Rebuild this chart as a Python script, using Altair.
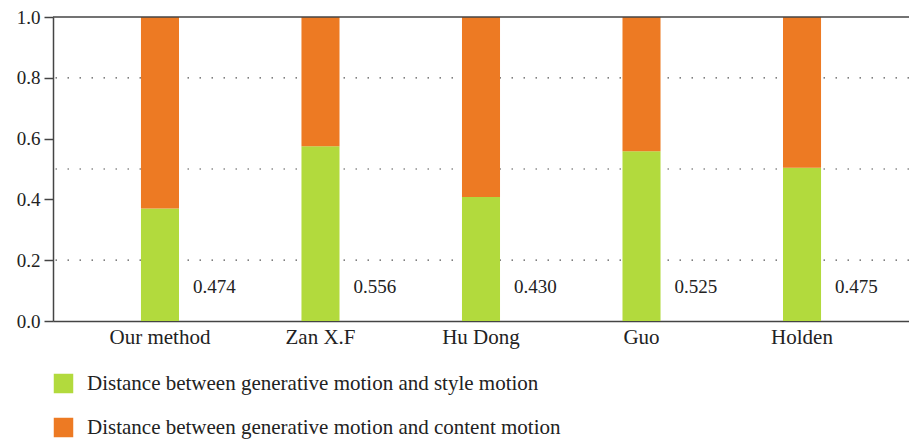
import altair as alt
import pandas as pd

methods = ["Our method", "Zan X.F", "Hu Dong", "Guo", "Holden"]
style_dist = [0.37, 0.575, 0.408, 0.558, 0.504]
content_dist = [round(1 - v, 3) for v in style_dist]
labels = ["0.474", "0.556", "0.430", "0.525", "0.475"]
series = ["Distance between generative motion and style motion",
          "Distance between generative motion and content motion"]
colors = ["#B2DA3D", "#ED7A23"]
grid_vals = [0.2, 0.5, 0.8]

rows = []
for m, s, c in zip(methods, style_dist, content_dist):
    rows.append({"method": m, "series": series[0], "value": s, "ord": 0})
    rows.append({"method": m, "series": series[1], "value": c, "ord": 1})
df = pd.DataFrame(rows)
lab_df = pd.DataFrame({"method": methods, "label": labels})
grid_df = pd.DataFrame({"g": grid_vals})

FONT = "Liberation Serif"

xscale = alt.Scale(domain=methods, paddingInner=0.763, paddingOuter=0.548)
yscale = alt.Scale(domain=[0, 1], nice=False)

grid = alt.Chart(grid_df).mark_rule(
    color="#555555", strokeWidth=1.2, strokeDash=[1.5, 10.5]
).encode(y=alt.Y("g:Q", scale=yscale))

bars = alt.Chart(df).mark_bar().encode(
    x=alt.X("method:N", scale=xscale, sort=methods,
            axis=alt.Axis(title=None, labelAngle=0, ticks=False, domain=True,
                          domainColor="#444444", domainWidth=1.5,
                          labelFont=FONT, labelFontSize=21, labelColor="#222222",
                          labelPadding=5)),
    y=alt.Y("value:Q", stack="zero", scale=yscale,
            axis=alt.Axis(title=None, values=[0, 0.2, 0.4, 0.6, 0.8, 1.0], format=".1f",
                          grid=False, tickSize=9, tickColor="#444444", tickWidth=1.5,
                          domainColor="#444444", domainWidth=1.5,
                          labelFont=FONT, labelFontSize=19, labelColor="#222222",
                          labelPadding=4)),
    color=alt.Color("series:N", scale=alt.Scale(domain=series, range=colors),
                    legend=alt.Legend(title=None, orient="none", legendX=0, legendY=356,
                                      direction="vertical", symbolType="square",
                                      symbolSize=380, symbolStrokeWidth=0,
                                      labelFont=FONT, labelFontSize=21, labelColor="#222222",
                                      labelOffset=13, rowPadding=22, padding=0,
                                      labelLimit=800)),
    order=alt.Order("ord:Q"),
)

text = alt.Chart(lab_df).mark_text(
    align="left", baseline="middle", dx=33, font=FONT, fontSize=19, color="#222222"
).encode(
    x=alt.X("method:N", scale=xscale, sort=methods),
    y=alt.value(270),
    text="label:N",
)

top = alt.Chart(pd.DataFrame({"t": [1.0]})).mark_rule(
    color="#444444", strokeWidth=1.5
).encode(y=alt.Y("t:Q", scale=yscale))

chart = alt.layer(grid, bars, text, top).properties(
    width=856, height=304,
    autosize=alt.AutoSizeParams(type="none"),
    padding={"left": 45, "top": 9, "right": 0, "bottom": 118},
).configure_view(stroke=None)

chart.save("out.html", embed_options={"renderer": "svg", "actions": False})
